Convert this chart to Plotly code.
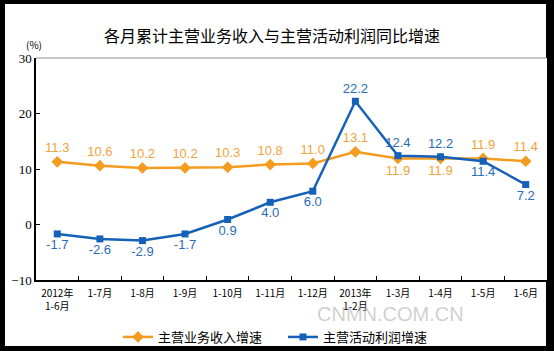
import plotly.graph_objects as go

categories = ["2012年<br>1-6月", "1-7月", "1-8月", "1-9月", "1-10月", "1-11月", "1-12月",
              "2013年<br>1-2月", "1-3月", "1-4月", "1-5月", "1-6月"]
revenue = [11.3, 10.6, 10.2, 10.2, 10.3, 10.8, 11.0, 13.1, 11.9, 11.9, 11.9, 11.4]
profit = [-1.7, -2.6, -2.9, -1.7, 0.9, 4.0, 6.0, 22.2, 12.4, 12.2, 11.4, 7.2]
rev_pos = ["top center"] * 8 + ["bottom center", "bottom center", "top center", "top center"]
prof_pos = ["bottom center"] * 7 + ["top center", "top center", "top center", "bottom center", "bottom center"]

ORANGE = "#F39C1F"
BLUE = "#1560B8"
CJK = "Noto Sans CJK SC"

W, H = 554, 351
L, R, T, B = 36, 547, 58, 280
def px(x):
    return (x - L) / (R - L)
def py(y):
    return (B - y) / (B - T)

fig = go.Figure()
fig.add_trace(go.Scatter(
    x=categories, y=revenue, name="主营业务收入增速", mode="lines+markers+text",
    line=dict(color=ORANGE, width=2.5), marker=dict(symbol="diamond", size=9, color=ORANGE),
    text=[f"{v:.1f}" for v in revenue], textposition=rev_pos,
    textfont=dict(color="#F0A33A", size=13, family="Liberation Sans"),
    cliponaxis=False))
fig.add_trace(go.Scatter(
    x=categories, y=profit, name="主营活动利润增速", mode="lines+markers+text",
    line=dict(color=BLUE, width=2.5), marker=dict(symbol="square", size=7, color=BLUE),
    text=[f"{v:.1f}" for v in profit], textposition=prof_pos,
    textfont=dict(color="#2A6BB8", size=13, family="Liberation Sans"),
    cliponaxis=False))

shapes = [
    dict(type="rect", xref="paper", yref="paper", x0=px(5), x1=px(546), y0=py(346), y1=py(4),
         fillcolor="white", line=dict(width=0), layer="below"),
    dict(type="line", xref="paper", yref="paper", x0=0, x1=px(546), y0=1, y1=1,
         line=dict(color="#909090", width=1)),
]

annotations = [
    dict(text="各月累计主营业务收入与主营活动利润同比增速", xref="paper", yref="paper",
         x=px(272), y=py(35), showarrow=False, font=dict(family=CJK, size=16, color="black"),
         xanchor="center", yanchor="middle"),
    dict(text="(%)", xref="paper", yref="paper", x=px(34), y=py(45), showarrow=False,
         font=dict(family=CJK, size=10, color="black"), xanchor="center", yanchor="middle"),
    dict(text="CNMN.COM.CN", xref="paper", yref="paper", x=px(390), y=py(314), showarrow=False,
         font=dict(family="Liberation Sans", size=20, color="rgba(160,160,160,0.5)"),
         xanchor="center", yanchor="middle"),
]

fig.update_layout(
    width=W, height=H, margin=dict(l=L, r=W - R, t=T, b=H - B, autoexpand=False),
    paper_bgcolor="black", plot_bgcolor="white",
    shapes=shapes, annotations=annotations,
    showlegend=True,
    legend=dict(orientation="h", x=px(118), y=py(337), xanchor="left", yanchor="middle",
                font=dict(family=CJK, size=13, color="black"), bgcolor="rgba(0,0,0,0)",
                itemwidth=30, entrywidthmode="pixels", entrywidth=120),
    xaxis=dict(type="category", showline=True, linecolor="black", linewidth=1.5,
               ticks="inside", tickson="boundaries", ticklen=4, tickcolor="black",
               showgrid=False, tickfont=dict(family=CJK, size=10, color="black"),
               tickangle=0, automargin=False, ticklabelstandoff=3, range=[-0.5, 11.5]),
    yaxis=dict(range=[-10, 30], dtick=10, showline=True, linecolor="black", linewidth=1.5,
               ticks="inside", ticklen=4, tickcolor="black", showgrid=False, zeroline=False,
               automargin=False,
               tickfont=dict(family="Liberation Serif", size=13, color="black")),
)

fig.write_html("out.html")
